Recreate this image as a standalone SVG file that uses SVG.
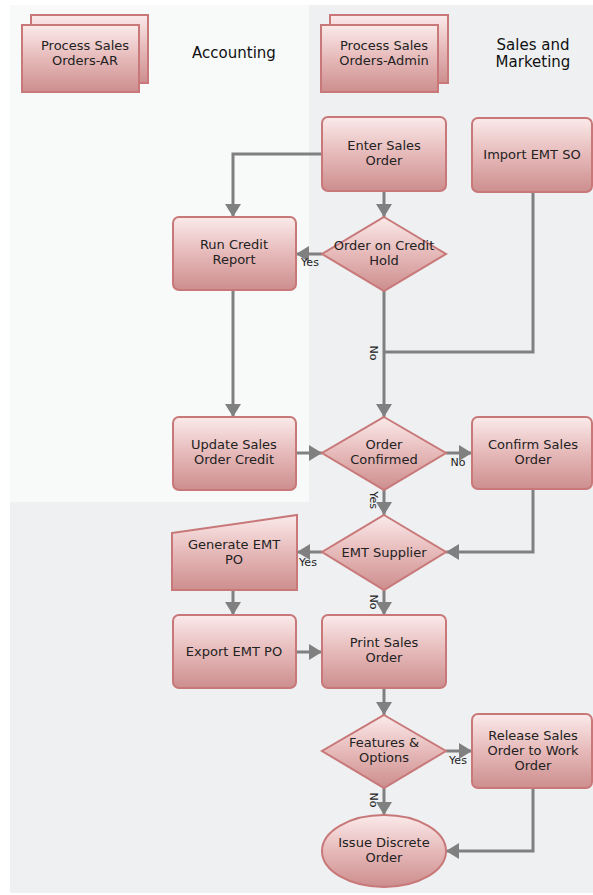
<svg xmlns="http://www.w3.org/2000/svg" width="593" height="895" viewBox="0 0 593 895">
<defs>
<linearGradient id="g" x1="0" y1="0" x2="0" y2="1">
<stop offset="0" stop-color="#fbeaea"/>
<stop offset="0.5" stop-color="#e6b9b9"/>
<stop offset="1" stop-color="#cd8e8e"/>
</linearGradient>
<marker id="ah" markerUnits="userSpaceOnUse" markerWidth="14" markerHeight="18" refX="13" refY="8" orient="auto">
<path d="M0,0 L13,8 L0,16 Z" fill="#808080"/>
</marker>
<style>
.n{fill:url(#g);stroke:#c87878;stroke-width:2}
.t{font-family:"DejaVu Sans",Verdana,sans-serif;font-size:13px;fill:#222;text-anchor:middle}
.h{font-family:"DejaVu Sans",Verdana,sans-serif;font-size:15px;fill:#111;text-anchor:middle}
.l{font-family:"DejaVu Sans",Verdana,sans-serif;font-size:11px;fill:#222;text-anchor:middle}
.c{fill:none;stroke:#808080;stroke-width:3}
.a{marker-end:url(#ah)}
</style>
</defs>
<rect x="0" y="0" width="593" height="895" fill="#ffffff"/>
<rect x="10" y="5" width="583" height="888" fill="#eef0f2"/>
<rect x="10" y="5" width="299" height="497" fill="#f8f9f9"/>

<g id="connectors">
<path class="c a" d="M384,191 V217"/>
<path class="c a" d="M322,154 H233 V217"/>
<path class="c a" d="M322,254 H296"/>
<path class="c a" d="M233,290 V417"/>
<path class="c a" d="M384,291 V417"/>
<path class="c" d="M533,192 V352 H384"/>
<path class="c a" d="M296,453 H322"/>
<path class="c a" d="M446,453 H472"/>
<path class="c a" d="M384,490 V515"/>
<path class="c a" d="M533,489 V552 H446"/>
<path class="c a" d="M322,552 H297"/>
<path class="c a" d="M233,590 V615"/>
<path class="c a" d="M384,590 V615"/>
<path class="c a" d="M297,652 H322"/>
<path class="c a" d="M384,688 V715"/>
<path class="c a" d="M446,751 H472"/>
<path class="c a" d="M384,788 V815"/>
<path class="c a" d="M533,788 V851 H446"/>
<text class="l" x="310" y="266">Yes</text>
<text class="l" transform="translate(370,353) rotate(90)">No</text>
<text class="l" x="458" y="466">No</text>
<text class="l" transform="translate(370,500) rotate(90)">Yes</text>
<text class="l" x="308" y="566">Yes</text>
<text class="l" transform="translate(370,602) rotate(90)">No</text>
<text class="l" x="458" y="764">Yes</text>
<text class="l" transform="translate(370,800) rotate(90)">No</text>
</g>

<g id="lane-ar">
<rect class="n" x="31" y="15" width="117" height="68"/>
<rect class="n" x="22" y="25" width="117" height="67"/>
<text class="t" x="85" y="50">Process Sales</text>
<text class="t" x="85" y="65">Orders-AR</text>
</g>
<g id="lane-accounting"><text class="h" x="234" y="58">Accounting</text></g>
<g id="lane-admin">
<rect class="n" x="330" y="15" width="118" height="68"/>
<rect class="n" x="321" y="25" width="117" height="67"/>
<text class="t" x="384" y="50">Process Sales</text>
<text class="t" x="384" y="65">Orders-Admin</text>
</g>
<g id="lane-sales"><text class="h" x="533" y="50">Sales and</text><text class="h" x="533" y="67">Marketing</text></g>

<g id="enter-sales-order">
<rect class="n" x="322" y="117" width="124" height="74" rx="6"/>
<text class="t" x="384" y="150">Enter Sales</text>
<text class="t" x="384" y="165">Order</text>
</g>
<g id="import-emt-so">
<rect class="n" x="472" y="118" width="120" height="74" rx="6"/>
<text class="t" x="532" y="159">Import EMT SO</text>
</g>
<g id="order-credit-hold">
<path class="n" d="M384,217 L446,254 L384,291 L322,254 Z"/>
<text class="t" x="384" y="250">Order on Credit</text>
<text class="t" x="384" y="265">Hold</text>
</g>
<g id="run-credit-report">
<rect class="n" x="173" y="217" width="123" height="73" rx="6"/>
<text class="t" x="234" y="249">Run Credit</text>
<text class="t" x="234" y="264">Report</text>
</g>
<g id="update-sales-order-credit">
<rect class="n" x="173" y="417" width="123" height="73" rx="6"/>
<text class="t" x="234" y="449">Update Sales</text>
<text class="t" x="234" y="464">Order Credit</text>
</g>
<g id="order-confirmed">
<path class="n" d="M384,417 L446,453 L384,490 L322,453 Z"/>
<text class="t" x="384" y="449">Order</text>
<text class="t" x="384" y="464">Confirmed</text>
</g>
<g id="confirm-sales-order">
<rect class="n" x="472" y="417" width="120" height="72" rx="6"/>
<text class="t" x="533" y="449">Confirm Sales</text>
<text class="t" x="533" y="464">Order</text>
</g>
<g id="emt-supplier">
<path class="n" d="M384,515 L446,552 L384,590 L322,552 Z"/>
<text class="t" x="384" y="557">EMT Supplier</text>
</g>
<g id="generate-emt-po">
<path class="n" d="M172,533 L297,515 L297,590 L172,590 Z"/>
<text class="t" x="234" y="549">Generate EMT</text>
<text class="t" x="234" y="564">PO</text>
</g>
<g id="export-emt-po">
<rect class="n" x="173" y="615" width="123" height="73" rx="6"/>
<text class="t" x="234" y="656">Export EMT PO</text>
</g>
<g id="print-sales-order">
<rect class="n" x="322" y="615" width="124" height="73" rx="6"/>
<text class="t" x="384" y="647">Print Sales</text>
<text class="t" x="384" y="662">Order</text>
</g>
<g id="features-options">
<path class="n" d="M384,715 L446,751 L384,788 L322,751 Z"/>
<text class="t" x="384" y="747">Features &amp;</text>
<text class="t" x="384" y="762">Options</text>
</g>
<g id="release-sales-order">
<rect class="n" x="472" y="714" width="120" height="74" rx="6"/>
<text class="t" x="533" y="740">Release Sales</text>
<text class="t" x="533" y="755">Order to Work</text>
<text class="t" x="533" y="770">Order</text>
</g>
<g id="issue-discrete-order">
<ellipse class="n" cx="384" cy="851" rx="62" ry="36"/>
<text class="t" x="384" y="847">Issue Discrete</text>
<text class="t" x="384" y="862">Order</text>
</g>
</svg>
